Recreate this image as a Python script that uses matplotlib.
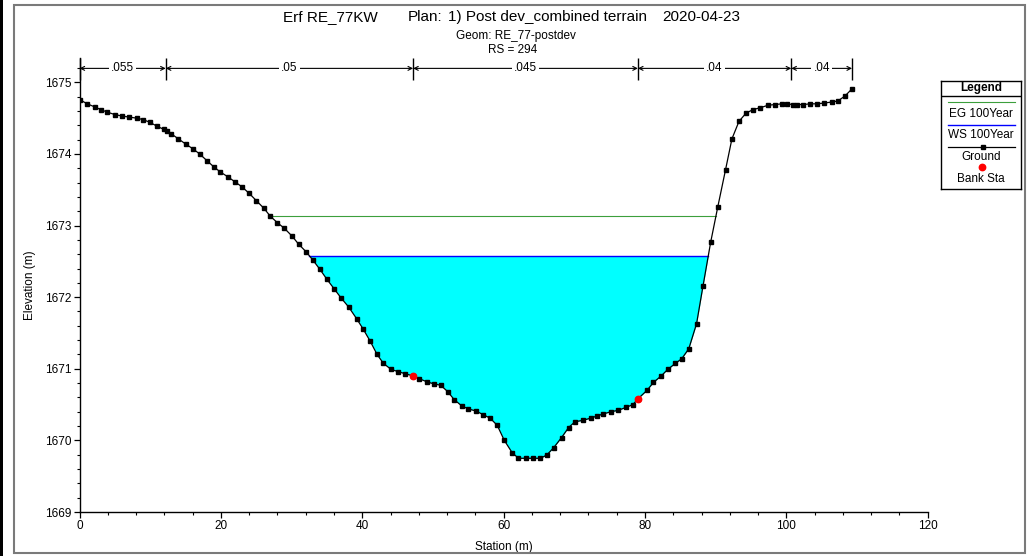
import matplotlib
matplotlib.use('Agg')
import numpy as np
import matplotlib.pyplot as plt
from matplotlib.patches import Rectangle

plt.rcParams['font.family'] = ['Liberation Sans', 'DejaVu Sans']

# ── Data ──────────────────────────────────────────────────────
station = [0.0, 1.1, 2.2, 3.0, 3.9, 5.0, 6.0, 7.0, 8.1, 9.0,
           10.0, 11.0, 11.9, 12.4, 13.0, 14.0, 15.0, 16.0, 17.0, 18.1,
           19.0, 19.9, 21.0, 22.0, 23.0, 24.0, 25.0, 26.1, 27.0, 28.0,
           29.0, 30.1, 31.0, 32.1, 33.0, 34.0, 35.0, 36.0, 37.0, 38.1,
           39.2, 40.1, 41.1, 42.1, 43.0, 44.1, 45.1, 46.1, 47.2, 48.1,
           49.1, 50.1, 51.1, 52.1, 53.0, 54.1, 55.0, 56.1, 57.1, 58.1,
           59.1, 60.1, 61.2, 62.1, 63.2, 64.1, 65.2, 66.1, 67.1, 68.2,
           69.2, 70.1, 71.2, 72.3, 73.2, 74.1, 75.2, 76.2, 77.3, 78.3,
           79.0, 80.3, 81.2, 82.3, 83.2, 84.3, 85.2, 86.2, 87.3, 88.2,
           89.3, 90.3, 91.4, 92.3, 93.3, 94.3, 95.3, 96.3, 97.4, 98.4,
           99.4, 100.1, 100.9, 101.5, 102.4, 103.4, 104.3, 105.3, 106.4, 107.3,
           108.3, 109.3]
elevation = [1674.76, 1674.70, 1674.655, 1674.62, 1674.585, 1674.55, 1674.53, 1674.515, 1674.50, 1674.48,
             1674.44, 1674.385, 1674.345, 1674.32, 1674.28, 1674.21, 1674.14, 1674.075, 1674.00, 1673.90,
             1673.82, 1673.75, 1673.68, 1673.61, 1673.54, 1673.45, 1673.35, 1673.24, 1673.13, 1673.04,
             1672.96, 1672.85, 1672.74, 1672.63, 1672.52, 1672.39, 1672.25, 1672.12, 1671.99, 1671.86,
             1671.70, 1671.56, 1671.39, 1671.20, 1671.075, 1670.99, 1670.96, 1670.93, 1670.90, 1670.86,
             1670.82, 1670.79, 1670.77, 1670.68, 1670.57, 1670.48, 1670.44, 1670.41, 1670.36, 1670.31,
             1670.21, 1670.00, 1669.83, 1669.75, 1669.75, 1669.75, 1669.75, 1669.795, 1669.90, 1670.04,
             1670.18, 1670.26, 1670.28, 1670.31, 1670.34, 1670.37, 1670.40, 1670.42, 1670.46, 1670.50,
             1670.58, 1670.70, 1670.81, 1670.90, 1670.99, 1671.075, 1671.14, 1671.28, 1671.63, 1672.15,
             1672.77, 1673.26, 1673.78, 1674.21, 1674.455, 1674.57, 1674.62, 1674.645, 1674.68, 1674.69,
             1674.70, 1674.70, 1674.69, 1674.69, 1674.69, 1674.70, 1674.70, 1674.71, 1674.725, 1674.74,
             1674.81, 1674.91]

bank_sta = [47.2, 79.0]
bank_elev = [1670.90, 1670.58]

ws_100 = 1672.58
eg_100 = 1673.13

n_bounds = [0.0, 12.2, 47.2, 79.0, 100.7, 109.3]
n_values = ['.055', '.05', '.045', '.04', '.04']

title_parts = ['Erf RE_77KW', 'Plan:', '1) Post dev_combined terrain', '2020-04-23']
title_x_px = [283, 408, 448, 662]

W, H = 1033, 556
sta = np.array(station)
elev = np.array(elevation)


def crossings(level):
    """left/right stations where the ground crosses a level"""
    d = elev - level
    idx = np.where(np.sign(d[:-1]) != np.sign(d[1:]))[0]
    out = []
    for i in idx:
        t = d[i] / (d[i] - d[i + 1])
        out.append(sta[i] + t * (sta[i + 1] - sta[i]))
    return out[0], out[-1]


# ── Figure ────────────────────────────────────────────────────
fig = plt.figure(figsize=(W / 100, H / 100), dpi=100, facecolor='white')
ax = fig.add_axes([79.5 / W, (H - 512) / H, (927.7 - 79.5) / W, (512 - 58) / H])

# water fill + WS / EG lines
ax.fill_between(sta, elev, ws_100, where=elev <= ws_100, interpolate=True,
                color='#00FFFF', lw=0, zorder=1)
wl, wr = crossings(ws_100)
ax.plot([wl, wr], [ws_100, ws_100], color='#0000FF', lw=1.0, zorder=2)
el, er = crossings(eg_100)
ax.plot([el, er], [eg_100, eg_100], color='#3C9F3C', lw=0.8, zorder=2)

# ground
ax.plot(sta, elev, color='black', lw=0.9, marker='s', ms=3.4,
        mfc='black', mec='black', zorder=3)
# bank stations
ax.plot(bank_sta, bank_elev, ls='none', marker='o', ms=4.6,
        mfc='#FF0000', mec='#FF0000', zorder=4)

# ── Axes styling ──────────────────────────────────────────────
ax.set_xlim(0, 120)
ax.set_ylim(1669, 1675.34)
ax.set_xticks(np.arange(0, 121, 20))
ax.set_xticks(np.arange(0, 121, 4), minor=True)
ax.set_yticks(np.arange(1669, 1676, 1))
ax.set_yticks(np.arange(1669, 1675.3, 0.2), minor=True)
ax.spines['top'].set_visible(False)
ax.spines['right'].set_visible(False)
for s in ('left', 'bottom'):
    ax.spines[s].set_linewidth(1.0)
ax.tick_params(which='major', direction='out', length=4, width=0.9,
               labelsize=8.5, pad=2)
ax.tick_params(which='minor', direction='out', length=2.5, width=0.8)
ax.set_xlabel('Station (m)', fontsize=8.5, labelpad=6)
ax.set_ylabel('Elevation (m)', fontsize=8.5, labelpad=6)
ax.patch.set_alpha(0)

# ── Manning's n bands along the top ───────────────────────────
ny = 1675.195
ax.vlines(n_bounds, 1675.03, 1675.34, color='black', lw=1.0, clip_on=False)
for x0, x1, lab in zip(n_bounds[:-1], n_bounds[1:], n_values):
    ax.annotate('', xy=(x0, ny), xytext=(x1, ny),
                arrowprops=dict(arrowstyle='<->', lw=0.8, color='black',
                                shrinkA=0, shrinkB=0, mutation_scale=7),
                annotation_clip=False)
    ax.text((x0 + x1) / 2, ny, lab, ha='center', va='center', fontsize=8.5,
            bbox=dict(fc='white', ec='none', pad=1.5), clip_on=False)

# ── Title block ───────────────────────────────────────────────
for t, px in zip(title_parts, title_x_px):
    fig.text(px / W, 1 - 17 / H, t, ha='left', va='center', fontsize=11)
fig.text(516 / W, 1 - 36 / H, 'Geom: RE_77-postdev', ha='center', va='center',
         fontsize=8.5)
fig.text(513 / W, 1 - 50 / H, 'RS = 294', ha='center', va='center', fontsize=8.5)

# ── Legend box ────────────────────────────────────────────────
lg = fig.add_axes([941 / W, 1 - 189 / H, 80 / W, 108 / H])
lg.set_xlim(0, 80)
lg.set_ylim(108, 0)
lg.set_xticks([]); lg.set_yticks([])
for s in lg.spines.values():
    s.set_linewidth(1.0)
lg.text(40, 7.5, 'Legend', ha='center', va='center', fontsize=8.5, fontweight='bold')
lg.plot([0, 80], [14.7, 14.7], color='black', lw=1.0)
lg.plot([6.5, 74], [21.3, 21.3], color='#3C9F3C', lw=0.8)
lg.text(40, 33, 'EG 100Year', ha='center', va='center', fontsize=8.5)
lg.plot([6.5, 74], [44, 44], color='#0000FF', lw=1.0)
lg.text(40, 54.5, 'WS 100Year', ha='center', va='center', fontsize=8.5)
lg.plot([6.5, 74], [65.7, 65.7], color='black', lw=0.9)
lg.plot([41.5], [65.7], marker='s', ms=3.4, color='black')
lg.text(40, 76.5, 'Ground', ha='center', va='center', fontsize=8.5)
lg.plot([40.5], [86.3], marker='o', ms=4.6, color='#FF0000', ls='none')
lg.text(40, 98.3, 'Bank Sta', ha='center', va='center', fontsize=8.5)

# ── Outer frame ───────────────────────────────────────────────
fig.patches.append(Rectangle((14 / W, 3 / H), 1011 / W, 548 / H,
                             transform=fig.transFigure, fill=False,
                             ec='#7A7A7A', lw=1.5))
fig.patches.append(Rectangle((0, 0), 3 / W, 1, transform=fig.transFigure,
                             fc='black', ec='none'))

fig.savefig('out.png', dpi=100, facecolor='white')
